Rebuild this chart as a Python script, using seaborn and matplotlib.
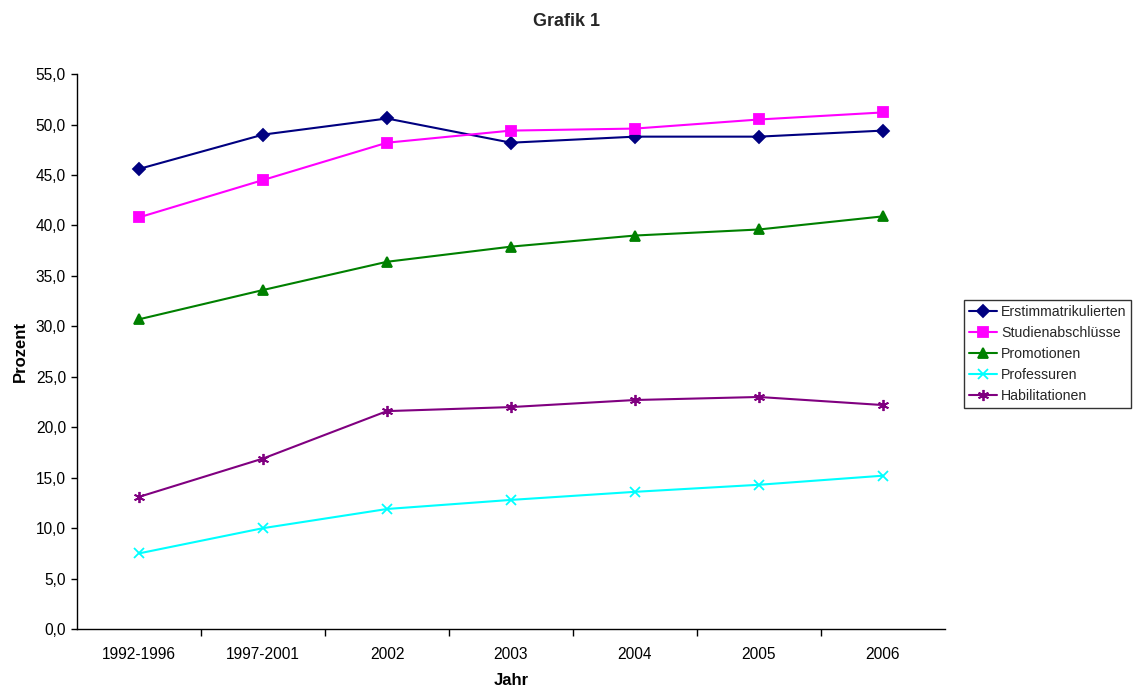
import matplotlib
matplotlib.use("Agg")
import matplotlib.pyplot as plt
from matplotlib.ticker import FixedLocator, FuncFormatter
import seaborn as sns
import pandas as pd

jahre = ["1992-1996", "1997-2001", "2002", "2003", "2004", "2005", "2006"]
erstimmatrikulierte = [45.6, 49.0, 50.6, 48.2, 48.8, 48.8, 49.4]
studienabschluesse = [40.8, 44.5, 48.2, 49.4, 49.6, 50.5, 51.2]
promotionen = [30.7, 33.6, 36.4, 37.9, 39.0, 39.6, 40.9]
professuren = [7.5, 10.0, 11.9, 12.8, 13.6, 14.3, 15.2]
habilitationen = [13.1, 16.9, 21.6, 22.0, 22.7, 23.0, 22.2]

reihen = {
    "Erstimmatrikulierten": erstimmatrikulierte,
    "Studienabschlüsse": studienabschluesse,
    "Promotionen": promotionen,
    "Professuren": professuren,
    "Habilitationen": habilitationen,
}
farben = {
    "Erstimmatrikulierten": "#000080",
    "Studienabschlüsse": "#FF00FF",
    "Promotionen": "#008000",
    "Professuren": "#00FFFF",
    "Habilitationen": "#800080",
}
marker = {
    "Erstimmatrikulierten": "D",
    "Studienabschlüsse": "s",
    "Promotionen": "^",
    "Professuren": "x",
    "Habilitationen": (6, 2, 0),
}
groessen = {
    "Erstimmatrikulierten": 6,
    "Studienabschlüsse": 7,
    "Promotionen": 7,
    "Professuren": 7,
    "Habilitationen": 8,
}

df = pd.DataFrame(
    [(j, name, v) for name, werte in reihen.items() for j, v in zip(jahre, werte)],
    columns=["Jahr", "Reihe", "Prozent"],
)

sns.set_theme(style="white")
plt.rcParams["font.family"] = ["Liberation Sans", "DejaVu Sans"]

fig = plt.figure(figsize=(11.33, 6.86), dpi=100)
ax = fig.add_axes([0.068, 0.083, 0.766, 0.809])

for name in reihen:
    sub = df[df["Reihe"] == name]
    sns.lineplot(
        data=sub, x="Jahr", y="Prozent", ax=ax, color=farben[name],
        marker=marker[name], markersize=groessen[name],
        markeredgecolor=farben[name], markeredgewidth=1.3,
        linewidth=1.5, label=name, sort=False,
    )

ax.set_xlim(-0.5, len(jahre) - 0.5)
ax.set_ylim(0, 55)
ax.yaxis.set_major_locator(FixedLocator([i * 5 for i in range(12)]))
ax.yaxis.set_major_formatter(FuncFormatter(lambda v, p: f"{v:.1f}".replace(".", ",")))
ax.set_xticks(range(len(jahre)))
ax.set_xticklabels(jahre)
ax.set_xticks([i + 0.5 for i in range(len(jahre) - 1)], minor=True)

ax.tick_params(axis="x", which="major", length=0, pad=13, labelsize=11.2, colors="black")
ax.tick_params(axis="x", which="minor", length=5, width=1, direction="out", color="black", bottom=True)
ax.tick_params(axis="y", which="major", length=4, width=1, direction="out", color="black", left=True,
               labelsize=11.2, labelcolor="black", pad=4)

for s in ["top", "right"]:
    ax.spines[s].set_visible(False)
for s in ["left", "bottom"]:
    ax.spines[s].set_color("black")
    ax.spines[s].set_linewidth(1)

ax.set_xlabel("Jahr", fontsize=12, fontweight="bold", color="black", labelpad=8)
ax.set_ylabel("Prozent", fontsize=12, fontweight="bold", color="black", labelpad=6)
fig.text(0.5, 0.969, "Grafik 1", ha="center", va="center", fontsize=13, fontweight="bold")

leg = ax.legend(
    loc="upper left", bbox_to_anchor=(0.851, 0.563), bbox_transform=fig.transFigure,
    frameon=True, fancybox=False, fontsize=10.2, handlelength=2.0, handletextpad=0.25,
    labelspacing=0.5, borderpad=0.35, borderaxespad=0,
)
leg.get_frame().set_edgecolor("black")
leg.get_frame().set_linewidth(1)

fig.savefig("out.png", dpi=100, facecolor="white")
